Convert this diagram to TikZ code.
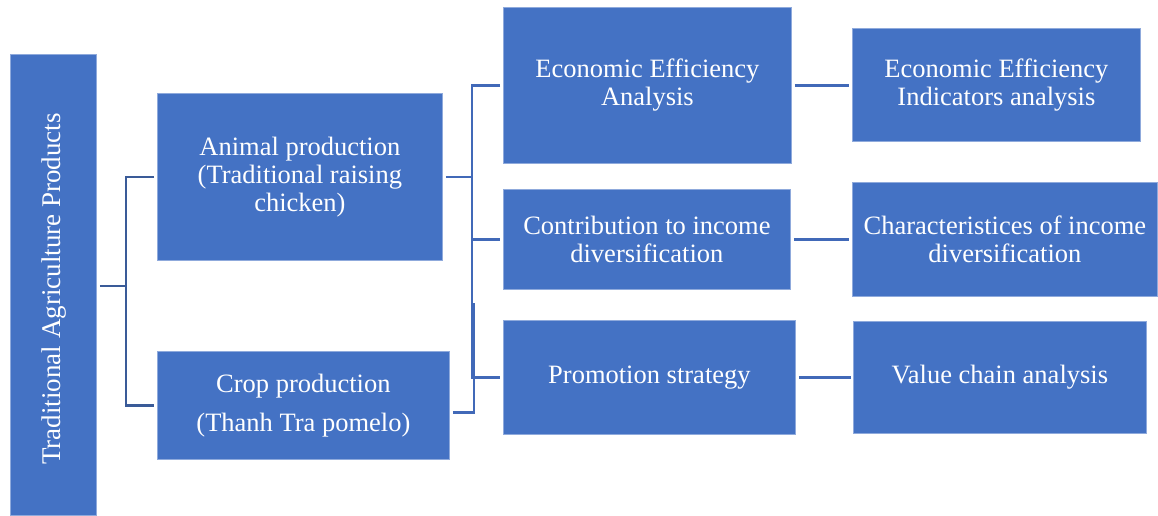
\documentclass[tikz,border=0pt]{standalone}
\usepackage{fontspec}
\setmainfont{Liberation Serif}
\begin{document}
\begin{tikzpicture}[x=1pt,y=-1pt,
  box/.style={fill=boxblue,draw=boxedge,line width=0.8pt,anchor=north west,
    inner sep=0pt,text=white,align=center,
    font=\fontsize{26.5}{28}\selectfont},
  lnL/.style={draw=linedark,line width=2.3pt},
  lnM/.style={draw=linemid,line width=2.3pt}]
\definecolor{boxblue}{HTML}{4472C4}
\definecolor{boxedge}{HTML}{8FAADC}
\definecolor{linedark}{HTML}{3A5B98}
\definecolor{linemid}{HTML}{4169B8}
\useasboundingbox (0,0) rectangle (1158,515);
\fill[white] (0,0) rectangle (1158,515);

% root box with vertical title
\node[box,minimum width=86pt,minimum height=461pt] (root) at (10,54) {};
\node[rotate=90,text=white,font=\fontsize{27}{30}\selectfont] at (54,289) {Traditional Agriculture Products};

% second level
\node[box,minimum width=285pt,minimum height=167pt] (animal) at (157,93)
  {Animal production\\(Traditional raising\\chicken)};
\node[box,minimum width=292pt,minimum height=108pt] (crop) at (157,351)
  {Crop production\\[11pt] (Thanh Tra pomelo)};

% third level
\node[box,minimum width=288pt,minimum height=156pt] (econ) at (503,7)
  {Economic Efficiency\\Analysis};
\node[box,minimum width=287pt,minimum height=100pt] (contrib) at (503,189)
  {Contribution to income\\diversification};
\node[box,minimum width=292pt,minimum height=114pt] (promo) at (503,320)
  {Promotion strategy};

% fourth level
\node[box,minimum width=288pt,minimum height=113pt] (indic) at (852,28)
  {Economic Efficiency\\Indicators analysis};
\node[box,minimum width=305pt,minimum height=114pt] (charac) at (852,182)
  {Characteristices of income\\diversification};
\node[box,minimum width=293pt,minimum height=112pt] (value) at (853,321)
  {Value chain analysis};

% junction points
\coordinate (jL) at (126,286);
\coordinate (jM) at (472,85);
\coordinate (jC) at (474,303);

% root to second level
\draw[lnL] ([xshift=3pt]root.east |- jL) -- (jL);
\draw[lnL] ([xshift=-3pt]animal.west) -| (jL) |- ([xshift=-3pt]crop.west);

% second to third level
\draw[lnM] ([xshift=3pt]animal.east) -- (jM |- animal.east);
\draw[lnM] ([xshift=-3pt]econ.west) -| (jM |- promo.west) -- ([xshift=-3pt]promo.west);
\draw[lnM] (jM |- contrib.west) -- ([xshift=-3pt]contrib.west);
\draw[lnM] ([shift={(3pt,-7pt)}]crop.east) -| (jC);

% third to fourth level
\draw[lnM] ([xshift=3pt]econ.east) -- ([xshift=-3pt]indic.west |- econ.east);
\draw[lnM] ([xshift=3pt]contrib.east) -- ([xshift=-3pt]charac.west |- contrib.east);
\draw[lnM] ([xshift=3pt]promo.east) -- ([xshift=-2pt]value.west |- promo.east);
\end{tikzpicture}
\end{document}
